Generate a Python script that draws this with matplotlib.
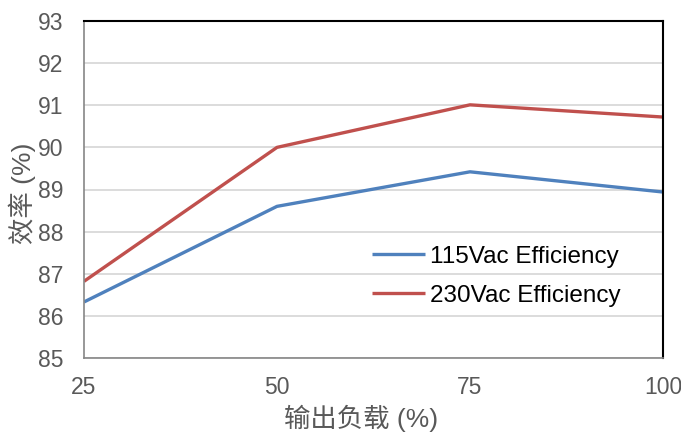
import matplotlib.pyplot as plt

plt.rcParams['font.family'] = ['Liberation Sans', 'Noto Sans CJK SC', 'DejaVu Sans']

load = [25, 50, 75, 100]
eff_115 = [86.33, 88.6, 89.42, 88.94]
eff_230 = [86.82, 90.0, 91.01, 90.72]

fig = plt.figure(figsize=(6.81, 4.32), dpi=100)
ax = fig.add_axes([84 / 681, 1 - 358 / 432, (663 - 84) / 681, (358 - 21) / 432])

ax.plot(load, eff_115, color='#4F81BD', lw=2.4, label='115Vac Efficiency', solid_capstyle='butt')
ax.plot(load, eff_230, color='#C0504D', lw=2.4, label='230Vac Efficiency', solid_capstyle='butt')

ax.set_xlim(25, 100)
ax.set_ylim(85, 93)
ax.set_xticks(load)
ax.set_yticks(range(85, 94))
ax.grid(axis='y', color='#d9d9d9', lw=1.3)
ax.set_axisbelow(True)
ax.tick_params(length=0, labelsize=16.5, labelcolor='#595959')
ax.tick_params(axis='y', pad=15)
ax.tick_params(axis='x', pad=13)

for s in ['left', 'bottom']:
    ax.spines[s].set_color('#868686')
    ax.spines[s].set_linewidth(1.2)
for s in ['top', 'right']:
    ax.spines[s].set_color('black')
    ax.spines[s].set_linewidth(1.5)

ax.set_xlabel('输出负载 (%)', fontsize=19, color='#595959', va='center')
ax.xaxis.set_label_coords(0.478, -0.18)
ax.set_ylabel('效率 (%)', fontsize=19, color='#595959', va='center')
ax.yaxis.set_label_coords(-0.107, 0.49)

ax.legend(loc='center left', bbox_to_anchor=(0.497, 0.242), frameon=False, fontsize=17.5,
          borderpad=0, borderaxespad=0, handlelength=2.2, handletextpad=0.2, labelspacing=0.7)

fig.savefig('out.png', dpi=100)
